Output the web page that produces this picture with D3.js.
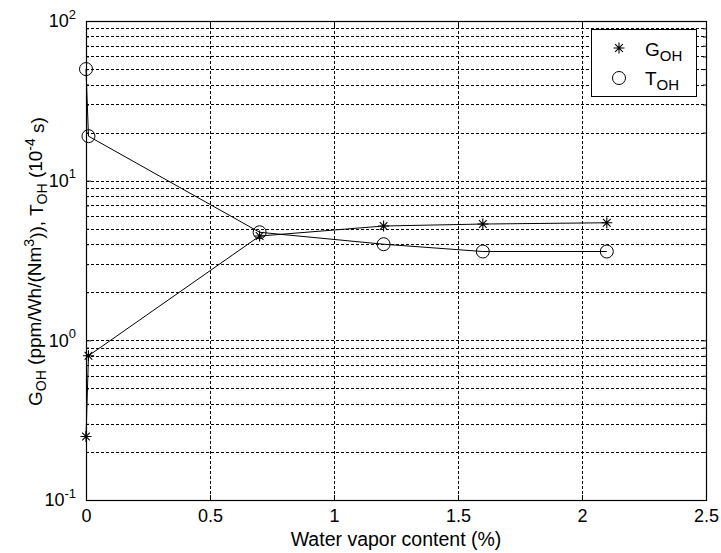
<!DOCTYPE html>
<html>
<head>
<meta charset="utf-8">
<script src="https://cdn.jsdelivr.net/npm/d3@7"></script>
<style>
  body { margin: 0; background: #fff; }
  svg text { font-family: "Liberation Sans", Arial, sans-serif; fill: #000; }
</style>
</head>
<body>
<svg width="721" height="553"></svg>
<script>
// values
var waterX = [0, 0.01, 0.7, 1.2, 1.6, 2.1];
var gOH = [0.25, 0.8, 4.5, 5.2, 5.35, 5.45];
var tOH = [50, 19, 4.75, 4.0, 3.6, 3.6];
var xTicks = [0, 0.5, 1, 1.5, 2, 2.5];
var xTickLabels = ['0', '0.5', '1', '1.5', '2', '2.5'];
var yTicks = [0.1, 1, 10, 100];
var yTickExp = ['-1', '0', '1', '2'];

var margin = { top: 21, right: 15, bottom: 53, left: 86 };
var width = 721 - margin.left - margin.right,
    height = 553 - margin.top - margin.bottom;

var svg = d3.select('svg')
  .append('g')
    .attr('transform', 'translate(' + margin.left + ',' + margin.top + ')');

var x = d3.scaleLinear().domain([0, 2.5]).range([0, width]);
var y = d3.scaleLog().domain([0.1, 100]).range([height, 0]);

// minor log values for grid
var minor = [];
[0.1, 1, 10].forEach(function(d) {
  for (var k = 2; k <= 9; k++) minor.push(d * k);
});

// grid
var grid = svg.append('g').attr('class', 'grid')
  .attr('stroke', '#000').attr('stroke-width', 1).attr('stroke-dasharray', '3,2');
grid.selectAll('.hg')
  .data(minor.concat([1, 10]))
  .enter().append('line')
  .attr('x1', 0).attr('x2', width)
  .attr('y1', function(d) { return Math.round(y(d)) + 0.5; })
  .attr('y2', function(d) { return Math.round(y(d)) + 0.5; });
grid.selectAll('.vg')
  .data(xTicks.slice(1, -1))
  .enter().append('line')
  .attr('y1', 0).attr('y2', height)
  .attr('x1', function(d) { return Math.round(x(d)) + 0.5; })
  .attr('x2', function(d) { return Math.round(x(d)) + 0.5; });

// axes
var xAxis = d3.axisBottom(x).tickValues(xTicks).tickSize(-5).tickPadding(9)
  .tickFormat(function(d, i) { return xTickLabels[i]; });
var gx = svg.append('g')
  .attr('transform', 'translate(0,' + height + ')')
  .call(xAxis);
gx.select('.domain').remove();
gx.selectAll('text').style('font-size', '18px');

svg.append('g')
  .call(d3.axisTop(x).tickValues(xTicks).tickSize(-5).tickFormat(''))
  .select('.domain').remove();

var yAxis = d3.axisLeft(y).tickValues(yTicks).tickSize(-5).tickPadding(10).tickFormat('');
var gy = svg.append('g').call(yAxis);
gy.select('.domain').remove();
gy.selectAll('.tick').append('text')
  .attr('x', -10).attr('dy', '0.32em')
  .attr('text-anchor', 'end')
  .style('font-size', '18px')
  .each(function(d, i) {
    var t = d3.select(this);
    t.append('tspan').text('10');
    t.append('tspan').attr('dy', '-0.65em').style('font-size', '13px').text(yTickExp[i]);
  });
svg.append('g').call(d3.axisLeft(y).tickValues(minor).tickSize(-3).tickFormat(''))
  .select('.domain').remove();
var gyr = svg.append('g').attr('transform', 'translate(' + width + ',0)');
gyr.call(d3.axisRight(y).tickValues(yTicks).tickSize(-5).tickFormat('')).select('.domain').remove();
gyr.append('g').call(d3.axisRight(y).tickValues(minor).tickSize(-3).tickFormat('')).select('.domain').remove();

// frame
svg.append('rect')
  .attr('x', 0.5).attr('y', 0.5)
  .attr('width', width).attr('height', height)
  .attr('fill', 'none').attr('stroke', '#000').attr('stroke-width', 1.2);

// lines
var line = d3.line()
  .x(function(d) { return x(d[0]); })
  .y(function(d) { return y(d[1]); });

var gData = waterX.map(function(d, i) { return [d, gOH[i]]; });
var tData = waterX.map(function(d, i) { return [d, tOH[i]]; });

svg.append('path').datum(gData).attr('d', line)
  .attr('fill', 'none').attr('stroke', '#000').attr('stroke-width', 1);
svg.append('path').datum(tData).attr('d', line)
  .attr('fill', 'none').attr('stroke', '#000').attr('stroke-width', 1);

function star(sel) {
  var s = 5.5;
  sel.append('path')
    .attr('d', 'M' + (-s) + ',0H' + s + 'M0,' + (-s) + 'V' + s +
      'M' + (-s * 0.7) + ',' + (-s * 0.7) + 'L' + (s * 0.7) + ',' + (s * 0.7) +
      'M' + (-s * 0.7) + ',' + (s * 0.7) + 'L' + (s * 0.7) + ',' + (-s * 0.7))
    .attr('stroke', '#000').attr('stroke-width', 1.1).attr('fill', 'none');
}

svg.selectAll('.gpt')
  .data(gData)
  .enter().append('g')
  .attr('transform', function(d) { return 'translate(' + x(d[0]) + ',' + y(d[1]) + ')'; })
  .call(star);

svg.selectAll('.tpt')
  .data(tData)
  .enter().append('circle')
  .attr('cx', function(d) { return x(d[0]); })
  .attr('cy', function(d) { return y(d[1]); })
  .attr('r', 6.5)
  .attr('fill', 'none').attr('stroke', '#000').attr('stroke-width', 1);

// legend
var legend = svg.append('g').attr('transform', 'translate(' + (width - 115) + ',8)');
legend.append('rect')
  .attr('x', 0.5).attr('y', 0.5).attr('width', 105).attr('height', 67)
  .attr('fill', '#fff').attr('stroke', '#000').attr('stroke-width', 1);
legend.append('g').attr('transform', 'translate(28,19)').call(star);
legend.append('circle').attr('cx', 28).attr('cy', 49).attr('r', 6.5)
  .attr('fill', 'none').attr('stroke', '#000');
var lg = legend.append('text').attr('x', 54).attr('y', 27).style('font-size', '19px');
lg.append('tspan').text('G');
lg.append('tspan').attr('dy', '0.3em').style('font-size', '15px').text('OH');
var lt = legend.append('text').attr('x', 54).attr('y', 56).style('font-size', '19px');
lt.append('tspan').text('T');
lt.append('tspan').attr('dy', '0.3em').style('font-size', '15px').text('OH');

// axis labels
svg.append('text')
  .attr('x', width / 2).attr('y', height + 46)
  .attr('text-anchor', 'middle')
  .style('font-size', '19.5px')
  .text('Water vapor content (%)');

var yl = svg.append('text')
  .attr('transform', 'translate(-44,' + (height / 2 + 1) + ') rotate(-90)')
  .attr('text-anchor', 'middle')
  .style('font-size', '19px');
yl.append('tspan').text('G');
yl.append('tspan').attr('dy', '0.3em').style('font-size', '14px').text('OH');
yl.append('tspan').attr('dy', '-0.3em').text(' (ppm/Wh/(Nm');
yl.append('tspan').attr('dy', '-0.5em').style('font-size', '14px').text('3');
yl.append('tspan').attr('dy', '0.5em').text(')), T');
yl.append('tspan').attr('dy', '0.3em').style('font-size', '14px').text('OH');
yl.append('tspan').attr('dy', '-0.3em').text(' (10');
yl.append('tspan').attr('dy', '-0.5em').style('font-size', '14px').text('-4');
yl.append('tspan').attr('dy', '0.5em').text(' s)');
</script>
</body>
</html>
